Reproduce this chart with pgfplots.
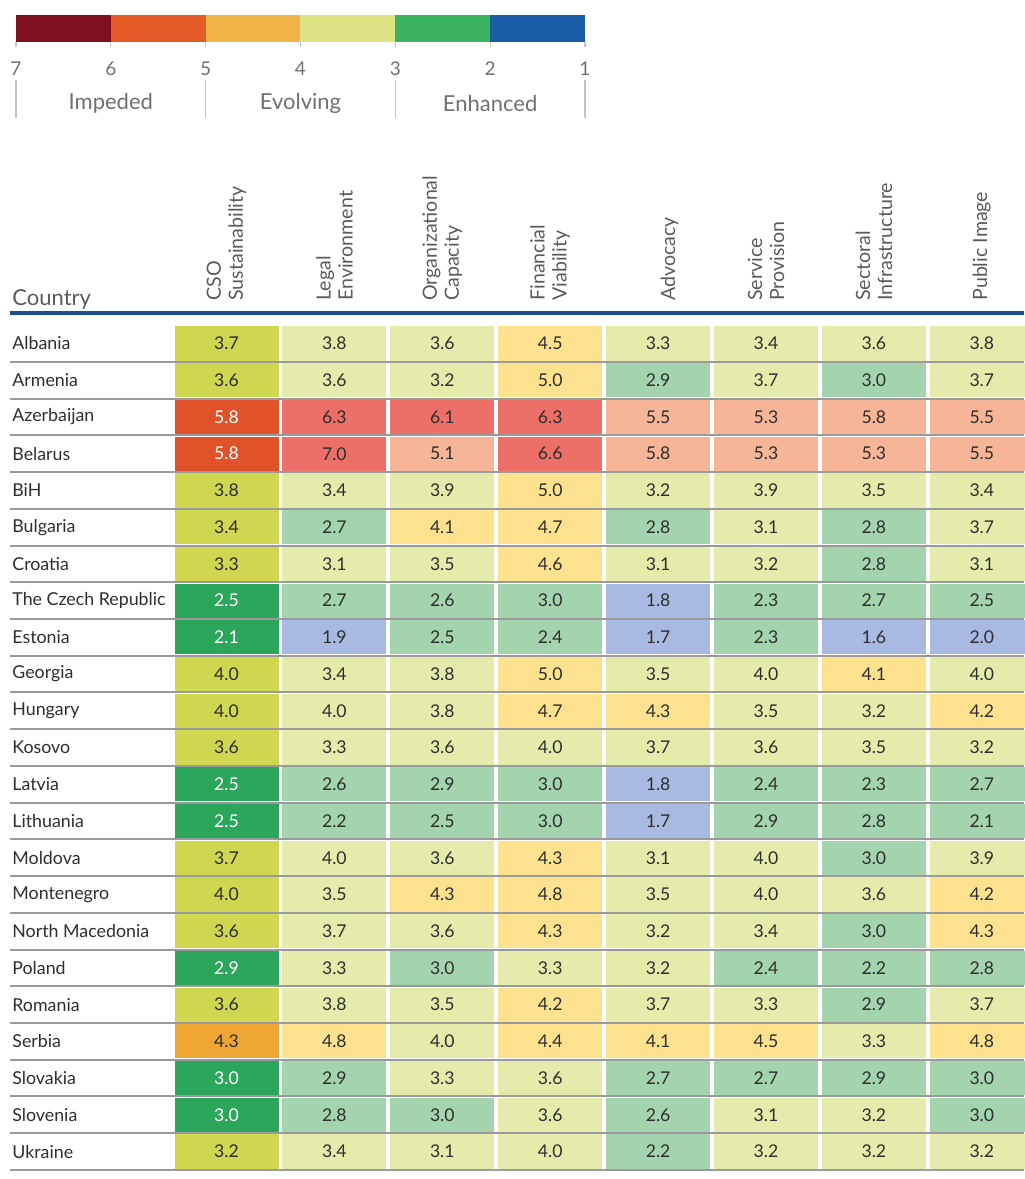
\documentclass[border=0pt]{standalone}
\usepackage{pgfplots}
\pgfplotsset{compat=1.18}
\usepackage{pgfplotstable}
\usepackage{fontspec}
\setmainfont{Lato}

\definecolor{txtdark}{HTML}{2E2E2E}
\definecolor{hdr}{HTML}{5A5A5A}
\definecolor{lbl}{HTML}{707070}
\definecolor{sepgray}{HTML}{9A9A9A}
\definecolor{divgray}{HTML}{C4C4C4}
\definecolor{navyline}{HTML}{1B4D8C}
\definecolor{leg1}{HTML}{7E1120}
\definecolor{leg2}{HTML}{E35B27}
\definecolor{leg3}{HTML}{F1B547}
\definecolor{leg4}{HTML}{DDE384}
\definecolor{leg5}{HTML}{3AB262}
\definecolor{leg6}{HTML}{1A5DA6}

\pgfplotsset{
 colormap={cso}{rgb255=(27,94,168) rgb255=(43,166,90) rgb255=(207,214,79) rgb255=(240,166,52) rgb255=(224,83,42) rgb255=(126,18,32)},
 colormap={pale}{rgb255=(169,186,226) rgb255=(163,212,174) rgb255=(229,236,171) rgb255=(252,225,142) rgb255=(247,181,151) rgb255=(236,112,104)},
 every axis/.append style={/pgf/number format/assume math mode=true},
 cellbase/.style={scatter, only marks, mark=cell, colormap access=piecewise constant, point meta=explicit},
 vals/.style={only marks, mark=none, point meta=explicit,
   nodes near coords={\pgfmathprintnumber[fixed,fixed zerofill,precision=1]{\pgfplotspointmeta}},
   nodes near coords align=center,
   every node near coord/.append style={font=\fontsize{8.8}{10}\selectfont, text=txtdark, inner sep=0pt, anchor=center}},
}

\pgfdeclareplotmark{cell}{\pgfpathrectangle{\pgfpoint{-26pt}{-8.55pt}}{\pgfpoint{52pt}{17.1pt}}\pgfusepathqfill}

\pgfplotstableread[col sep=comma]{
country,cso,legal,org,fin,adv,serv,sect,pub
Albania,3.7,3.8,3.6,4.5,3.3,3.4,3.6,3.8
Armenia,3.6,3.6,3.2,5.0,2.9,3.7,3.0,3.7
Azerbaijan,5.8,6.3,6.1,6.3,5.5,5.3,5.8,5.5
Belarus,5.8,7.0,5.1,6.6,5.8,5.3,5.3,5.5
BiH,3.8,3.4,3.9,5.0,3.2,3.9,3.5,3.4
Bulgaria,3.4,2.7,4.1,4.7,2.8,3.1,2.8,3.7
Croatia,3.3,3.1,3.5,4.6,3.1,3.2,2.8,3.1
The Czech Republic,2.5,2.7,2.6,3.0,1.8,2.3,2.7,2.5
Estonia,2.1,1.9,2.5,2.4,1.7,2.3,1.6,2.0
Georgia,4.0,3.4,3.8,5.0,3.5,4.0,4.1,4.0
Hungary,4.0,4.0,3.8,4.7,4.3,3.5,3.2,4.2
Kosovo,3.6,3.3,3.6,4.0,3.7,3.6,3.5,3.2
Latvia,2.5,2.6,2.9,3.0,1.8,2.4,2.3,2.7
Lithuania,2.5,2.2,2.5,3.0,1.7,2.9,2.8,2.1
Moldova,3.7,4.0,3.6,4.3,3.1,4.0,3.0,3.9
Montenegro,4.0,3.5,4.3,4.8,3.5,4.0,3.6,4.2
North Macedonia,3.6,3.7,3.6,4.3,3.2,3.4,3.0,4.3
Poland,2.9,3.3,3.0,3.3,3.2,2.4,2.2,2.8
Romania,3.6,3.8,3.5,4.2,3.7,3.3,2.9,3.7
Serbia,4.3,4.8,4.0,4.4,4.1,4.5,3.3,4.8
Slovakia,3.0,2.9,3.3,3.6,2.7,2.7,2.9,3.0
Slovenia,3.0,2.8,3.0,3.6,2.6,3.1,3.2,3.0
Ukraine,3.2,3.4,3.1,4.0,2.2,3.2,3.2,3.2
}\data

\begin{document}
\begin{tikzpicture}
\path[use as bounding box] (0pt,0pt) rectangle (512pt,-589.5pt);

% ---------- legend bar ----------
\begin{axis}[
  at={(8pt,-7.5pt)}, anchor=north west,
  width=284.5pt, height=13.5pt, scale only axis,
  xmin=1, xmax=7, x dir=reverse, ymin=0, ymax=1,
  axis line style={draw=none}, clip=false,
  ytick=\empty, xtick={1,...,7}, xtick pos=left,
  tick align=outside, major tick length=2.5pt,
  tick style={draw=divgray, line width=0.6pt},
  xticklabel={\pgfmathprintnumber{\tick}},
  xticklabel style={font=\fontsize{9.5}{11}\selectfont, text=lbl, yshift=-4pt},
]
\addplot[fill=leg1, draw=none] coordinates {(6,1) (7,1)} \closedcycle;
\addplot[fill=leg2, draw=none] coordinates {(5,1) (6,1)} \closedcycle;
\addplot[fill=leg3, draw=none] coordinates {(4,1) (5,1)} \closedcycle;
\addplot[fill=leg4, draw=none] coordinates {(3,1) (4,1)} \closedcycle;
\addplot[fill=leg5, draw=none] coordinates {(2,1) (3,1)} \closedcycle;
\addplot[fill=leg6, draw=none] coordinates {(1,1) (2,1)} \closedcycle;
\draw[divgray, line width=0.6pt] (axis cs:7,-1.41) -- (axis cs:7,-2.82);
\draw[divgray, line width=0.6pt] (axis cs:5,-1.41) -- (axis cs:5,-2.82);
\draw[divgray, line width=0.6pt] (axis cs:3,-1.41) -- (axis cs:3,-2.82);
\draw[divgray, line width=0.6pt] (axis cs:1,-1.41) -- (axis cs:1,-2.82);
\node[font=\fontsize{11}{12}\selectfont, text=lbl] at (axis cs:6,-2.26) {Impeded};
\node[font=\fontsize{11}{12}\selectfont, text=lbl] at (axis cs:4,-2.26) {Evolving};
\node[font=\fontsize{11}{12}\selectfont, text=lbl] at (axis cs:2,-2.26) {Enhanced};
\end{axis}

% ---------- table ----------
\begin{axis}[
  at={(5pt,-156.5pt)}, anchor=north west,
  width=507pt, height=429.55pt, scale only axis,
  xmin=-2.0065, xmax=7.391, ymin=-0.83, ymax=22.56, y dir=reverse,
  axis line style={draw=none}, clip=false,
  point meta min=1.05, point meta max=7.05,
  xtick={0,...,7}, xticklabel pos=right,
  xticklabels={{CSO\\Sustainability},{Legal\\Environment},{Organizational\\Capacity},{Financial\\Viability},{\strut\\Advocacy},{Service\\Provision},{Sectoral\\Infrastructure},{Public Image}},
  xticklabel style={rotate=90, anchor=west, align=left, font=\fontsize{9.8}{11}\selectfont, text=hdr, inner xsep=6pt, inner ysep=0pt},
  ytick={0,...,22}, yticklabels from table={\data}{country},
  yticklabel style={anchor=west, font=\fontsize{8.9}{10}\selectfont, text=txtdark, inner sep=0pt, xshift=1pt},
  major tick length=0pt, minor tick length=0pt,
  minor ytick={0.5,1.5,...,22.5},
  yminorgrids=true, minor grid style={draw=sepgray, line width=1pt},
]
% cells
\addplot[cellbase, colormap name=cso] table[x expr=0, y expr=\coordindex, meta=cso] {\data};
\addplot[cellbase, colormap name=pale] table[x expr=1, y expr=\coordindex, meta=legal] {\data};
\addplot[cellbase, colormap name=pale] table[x expr=2, y expr=\coordindex, meta=org] {\data};
\addplot[cellbase, colormap name=pale] table[x expr=3, y expr=\coordindex, meta=fin] {\data};
\addplot[cellbase, colormap name=pale] table[x expr=4, y expr=\coordindex, meta=adv] {\data};
\addplot[cellbase, colormap name=pale] table[x expr=5, y expr=\coordindex, meta=serv] {\data};
\addplot[cellbase, colormap name=pale] table[x expr=6, y expr=\coordindex, meta=sect] {\data};
\addplot[cellbase, colormap name=pale] table[x expr=7, y expr=\coordindex, meta=pub] {\data};
% CSO labels: white on green / orange-red, dark elsewhere
\addplot[vals,
  restrict expr to domain={or(\thisrow{cso}<3.05,\thisrow{cso}>5.05)}{0.5:1.5},
  every node near coord/.append style={text=white}]
  table[x expr=0, y expr=\coordindex, meta=cso] {\data};
\addplot[vals,
  restrict expr to domain={or(\thisrow{cso}<3.05,\thisrow{cso}>5.05)}{-0.5:0.5}]
  table[x expr=0, y expr=\coordindex, meta=cso] {\data};
% other labels
\addplot[vals] table[x expr=1, y expr=\coordindex, meta=legal] {\data};
\addplot[vals] table[x expr=2, y expr=\coordindex, meta=org] {\data};
\addplot[vals] table[x expr=3, y expr=\coordindex, meta=fin] {\data};
\addplot[vals] table[x expr=4, y expr=\coordindex, meta=adv] {\data};
\addplot[vals] table[x expr=5, y expr=\coordindex, meta=serv] {\data};
\addplot[vals] table[x expr=6, y expr=\coordindex, meta=sect] {\data};
\addplot[vals] table[x expr=7, y expr=\coordindex, meta=pub] {\data};
\draw[navyline, line width=2pt] (axis cs:-2.0065,-0.83) -- (axis cs:7.391,-0.83);
\node[anchor=base west, font=\fontsize{11}{13}\selectfont, text=hdr, inner sep=0pt] at (axis cs:-1.988,-1.048) {Country};
\end{axis}
\end{tikzpicture}
\end{document}
